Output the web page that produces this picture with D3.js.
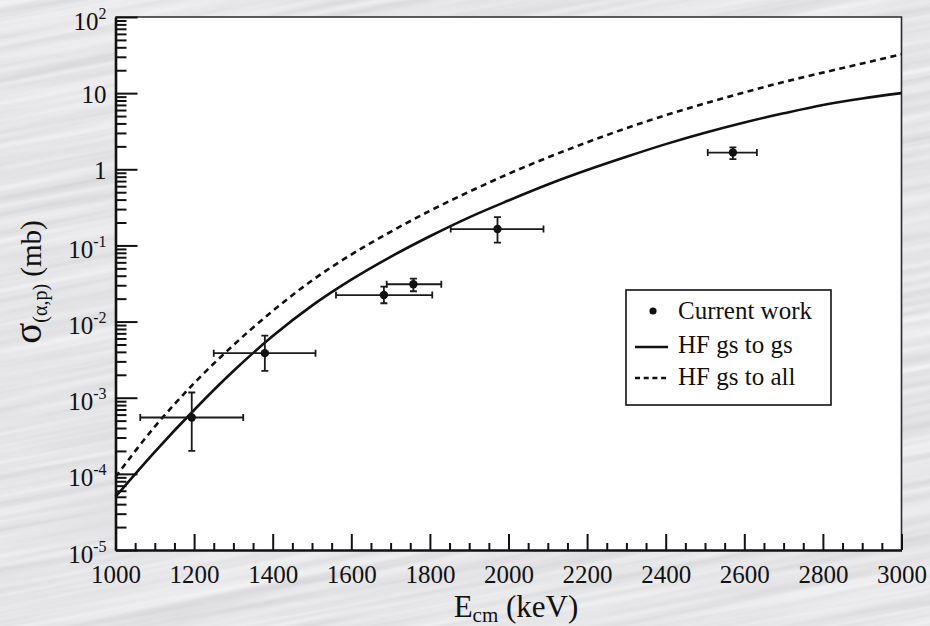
<!DOCTYPE html>
<html>
<head>
<meta charset="utf-8">
<script src="https://cdn.jsdelivr.net/npm/d3@7"></script>
<style>
  html, body { margin: 0; padding: 0; background: #c6c6cb; }
  .canvas svg { display: block; }
  text { font-family: "Liberation Serif", "DejaVu Serif", serif; fill: #111; }
</style>
</head>
<body>
<div class="canvas"></div>
<script>
// measured points (E in keV, sigma in mb)
const pointE = [1194, 1380, 1683, 1758, 1972, 2571];
const pointSigma = [5.5e-4, 3.85e-3, 0.0223, 0.0309, 0.164, 1.66];
const pointELow = [1063, 1250, 1561, 1690, 1853, 2507];
const pointEHigh = [1325, 1509, 1806, 1829, 2089, 2632];
const pointSigmaLow = [2.0e-4, 2.25e-3, 0.0174, 0.025, 0.109, 1.36];
const pointSigmaHigh = [1.17e-3, 6.55e-3, 0.0288, 0.0367, 0.235, 1.94];

// Hauser-Feshbach curves
const curveE = [1000, 1100, 1200, 1300, 1400, 1500, 1600, 1700, 1800, 1900, 2000,
                2100, 2200, 2300, 2400, 2500, 2600, 2700, 2800, 2900, 3000];
const hfGsToGs = [5.0e-5, 1.95e-4, 6.9e-4, 2.24e-3, 6.46e-3, 0.0162, 0.0355, 0.0708, 0.132, 0.234, 0.389,
                  0.631, 0.977, 1.46, 2.14, 3.02, 4.12, 5.43, 7.0, 8.51, 10.0];
const hfGsToAll = [9.1e-5, 4.17e-4, 1.55e-3, 4.9e-3, 0.0138, 0.0347, 0.0759, 0.151, 0.285, 0.507, 0.871,
                   1.43, 2.26, 3.47, 5.13, 7.33, 10.2, 14.0, 18.6, 24.5, 32.4];

// axis ticks
const xMajorTicks = [1000, 1200, 1400, 1600, 1800, 2000, 2200, 2400, 2600, 2800, 3000];
const yDecades = [-5, -4, -3, -2, -1, 0, 1, 2];

const width = 930, height = 626;
const margin = {top: 17, right: 28.5, bottom: 76, left: 115.5};

const svg = d3.select('.canvas')
  .append('svg')
    .attr('width', width)
    .attr('height', height);

// brushed metal background
const defs = svg.append('defs');
const filt = defs.append('filter').attr('id', 'brushed');
filt.append('feTurbulence')
  .attr('type', 'fractalNoise')
  .attr('baseFrequency', '0.003 0.12')
  .attr('numOctaves', 3)
  .attr('seed', 7);
filt.append('feColorMatrix')
  .attr('type', 'matrix')
  .attr('values', '0.28 0 0 0 0.645  0.28 0 0 0 0.645  0.28 0 0 0 0.665  0 0 0 0 1');

svg.append('g')
  .attr('transform', 'rotate(-11 465 313)')
  .append('rect')
    .attr('x', -300).attr('y', -400)
    .attr('width', 1600).attr('height', 1400)
    .attr('filter', 'url(#brushed)');

const x = d3.scaleLinear()
  .domain([1000, 3000])
  .range([margin.left, width - margin.right]);

const y = d3.scaleLog()
  .domain([1e-5, 1e2])
  .range([height - margin.bottom, margin.top]);

const x0 = x.range()[0], x1 = x.range()[1];
const y0 = y.range()[0], y1 = y.range()[1];

// plot area
svg.append('rect')
  .attr('x', x0).attr('y', y1)
  .attr('width', x1 - x0).attr('height', y0 - y1)
  .attr('fill', '#fff');

// top & right frame
svg.append('path')
  .attr('d', `M${x0},${y1}H${x1}V${y0}`)
  .attr('fill', 'none')
  .attr('stroke', '#2a2a2a')
  .attr('stroke-width', 1.6);

// x axis
const xMinor = d3.range(1000, 3001, 50).filter(v => v % 200 !== 0);
svg.append('g')
  .attr('transform', `translate(0, ${y0})`)
  .call(d3.axisBottom(x).tickValues(xMinor).tickSizeInner(-7).tickSizeOuter(0).tickFormat(''))
  .call(g => g.select('.domain').remove());

const xAxisGroup = svg.append('g')
  .attr('transform', `translate(0, ${y0})`)
  .attr('font-family', null)
  .call(d3.axisBottom(x).tickValues(xMajorTicks).tickSizeInner(-16).tickSizeOuter(0).tickFormat(d3.format('d')));

xAxisGroup.attr('font-family', '"Liberation Serif", serif');
xAxisGroup.selectAll('text')
  .attr('y', 33)
  .attr('dy', 0)
  .attr('font-size', 25)
  .attr('fill', '#111');

// y axis
const yMinor = [];
yDecades.slice(0, -1).forEach(p => {
  for (let k = 2; k <= 9; k++) yMinor.push(k * Math.pow(10, p));
});
svg.append('g')
  .attr('transform', `translate(${x0}, 0)`)
  .call(d3.axisLeft(y).tickValues(yMinor).tickSizeInner(-11).tickSizeOuter(0).tickFormat(''))
  .call(g => g.select('.domain').remove());

const yAxisGroup = svg.append('g')
  .attr('transform', `translate(${x0}, 0)`)
  .call(d3.axisLeft(y).tickValues(yDecades.map(p => Math.pow(10, p))).tickSizeInner(-22).tickSizeOuter(0).tickFormat(''));

[xAxisGroup, yAxisGroup].forEach(g => {
  g.select('.domain').attr('stroke', '#111').attr('stroke-width', 2.6);
});
svg.selectAll('.tick line').attr('stroke', '#111').attr('stroke-width', 2);

// y tick labels with superscripts
yDecades.forEach(p => {
  const ty = y(Math.pow(10, p));
  const t = svg.append('text')
    .attr('x', x0 - 9)
    .attr('text-anchor', 'end')
    .attr('font-size', 25);
  if (p === 0 || p === 1) {
    t.attr('y', ty + 10).text(p === 0 ? '1' : '10');
  } else {
    t.attr('y', ty + 12.5);
    t.append('tspan').text('10');
    t.append('tspan').attr('dy', -11).attr('font-size', 16).text(String(p));
  }
});

// axis titles
const xt = svg.append('text')
  .attr('x', 516)
  .attr('y', 617)
  .attr('text-anchor', 'middle')
  .attr('font-size', 31);
xt.append('tspan').text('E');
xt.append('tspan').attr('font-size', 21).attr('dy', 5).text('cm');
xt.append('tspan').attr('dy', -5).text(' (keV)');

const yt = svg.append('text')
  .attr('transform', 'translate(41, 282) rotate(-90)')
  .attr('text-anchor', 'middle')
  .attr('font-size', 29);
yt.append('tspan').attr('font-size', 39).text('σ');
yt.append('tspan').attr('font-size', 20).attr('dy', 6).text('(α,p)');
yt.append('tspan').attr('dy', -6).text(' (mb)');

// curves
const line = d3.line()
  .x(d => x(d[0]))
  .y(d => y(d[1]))
  .curve(d3.curveMonotoneX);

const plot = svg.append('g');

plot.append('path')
  .datum(curveE.map((e, i) => [e, hfGsToGs[i]]))
  .attr('d', line)
  .attr('fill', 'none')
  .attr('stroke', '#111')
  .attr('stroke-width', 2.6);

plot.append('path')
  .datum(curveE.map((e, i) => [e, hfGsToAll[i]]))
  .attr('d', line)
  .attr('fill', 'none')
  .attr('stroke', '#111')
  .attr('stroke-width', 2.6)
  .attr('stroke-dasharray', '6,4.5');

// data points with error bars
const pts = pointE.map((e, i) => ({
  e, s: pointSigma[i], eLo: pointELow[i], eHi: pointEHigh[i],
  sLo: pointSigmaLow[i], sHi: pointSigmaHigh[i]
}));

const cap = 3.5;
const bars = plot.selectAll('g.pt')
  .data(pts)
  .enter()
  .append('g')
    .attr('class', 'pt')
    .attr('stroke', '#1a1a1a')
    .attr('stroke-width', 1.8);

bars.append('path')
  .attr('fill', 'none')
  .attr('d', d => `M${x(d.eLo)},${y(d.s)}H${x(d.eHi)}` +
    `M${x(d.eLo)},${y(d.s) - cap}V${y(d.s) + cap}` +
    `M${x(d.eHi)},${y(d.s) - cap}V${y(d.s) + cap}` +
    `M${x(d.e)},${y(d.sLo)}V${y(d.sHi)}` +
    `M${x(d.e) - cap},${y(d.sLo)}H${x(d.e) + cap}` +
    `M${x(d.e) - cap},${y(d.sHi)}H${x(d.e) + cap}`);

bars.append('circle')
  .attr('cx', d => x(d.e))
  .attr('cy', d => y(d.s))
  .attr('r', 4.2)
  .attr('fill', '#111')
  .attr('stroke', 'none');

// legend
const legend = svg.append('g').attr('transform', 'translate(626, 290)');
legend.append('rect')
  .attr('width', 205).attr('height', 115)
  .attr('fill', '#fff')
  .attr('stroke', '#111')
  .attr('stroke-width', 1.6);

legend.append('circle')
  .attr('cx', 27).attr('cy', 21).attr('r', 3.6).attr('fill', '#111');
legend.append('line')
  .attr('x1', 9).attr('x2', 42).attr('y1', 57).attr('y2', 57)
  .attr('stroke', '#111').attr('stroke-width', 2.4);
legend.append('line')
  .attr('x1', 9).attr('x2', 42).attr('y1', 88).attr('y2', 88)
  .attr('stroke', '#111').attr('stroke-width', 2.4)
  .attr('stroke-dasharray', '5,3.7');

const legendLabels = ['Current work', 'HF gs to gs', 'HF gs to all'];
legend.selectAll('text.lbl')
  .data(legendLabels)
  .enter()
  .append('text')
    .attr('class', 'lbl')
    .attr('x', 52)
    .attr('y', (d, i) => [29, 63, 95][i])
    .attr('font-size', 25)
    .text(d => d);
</script>
</body>
</html>
